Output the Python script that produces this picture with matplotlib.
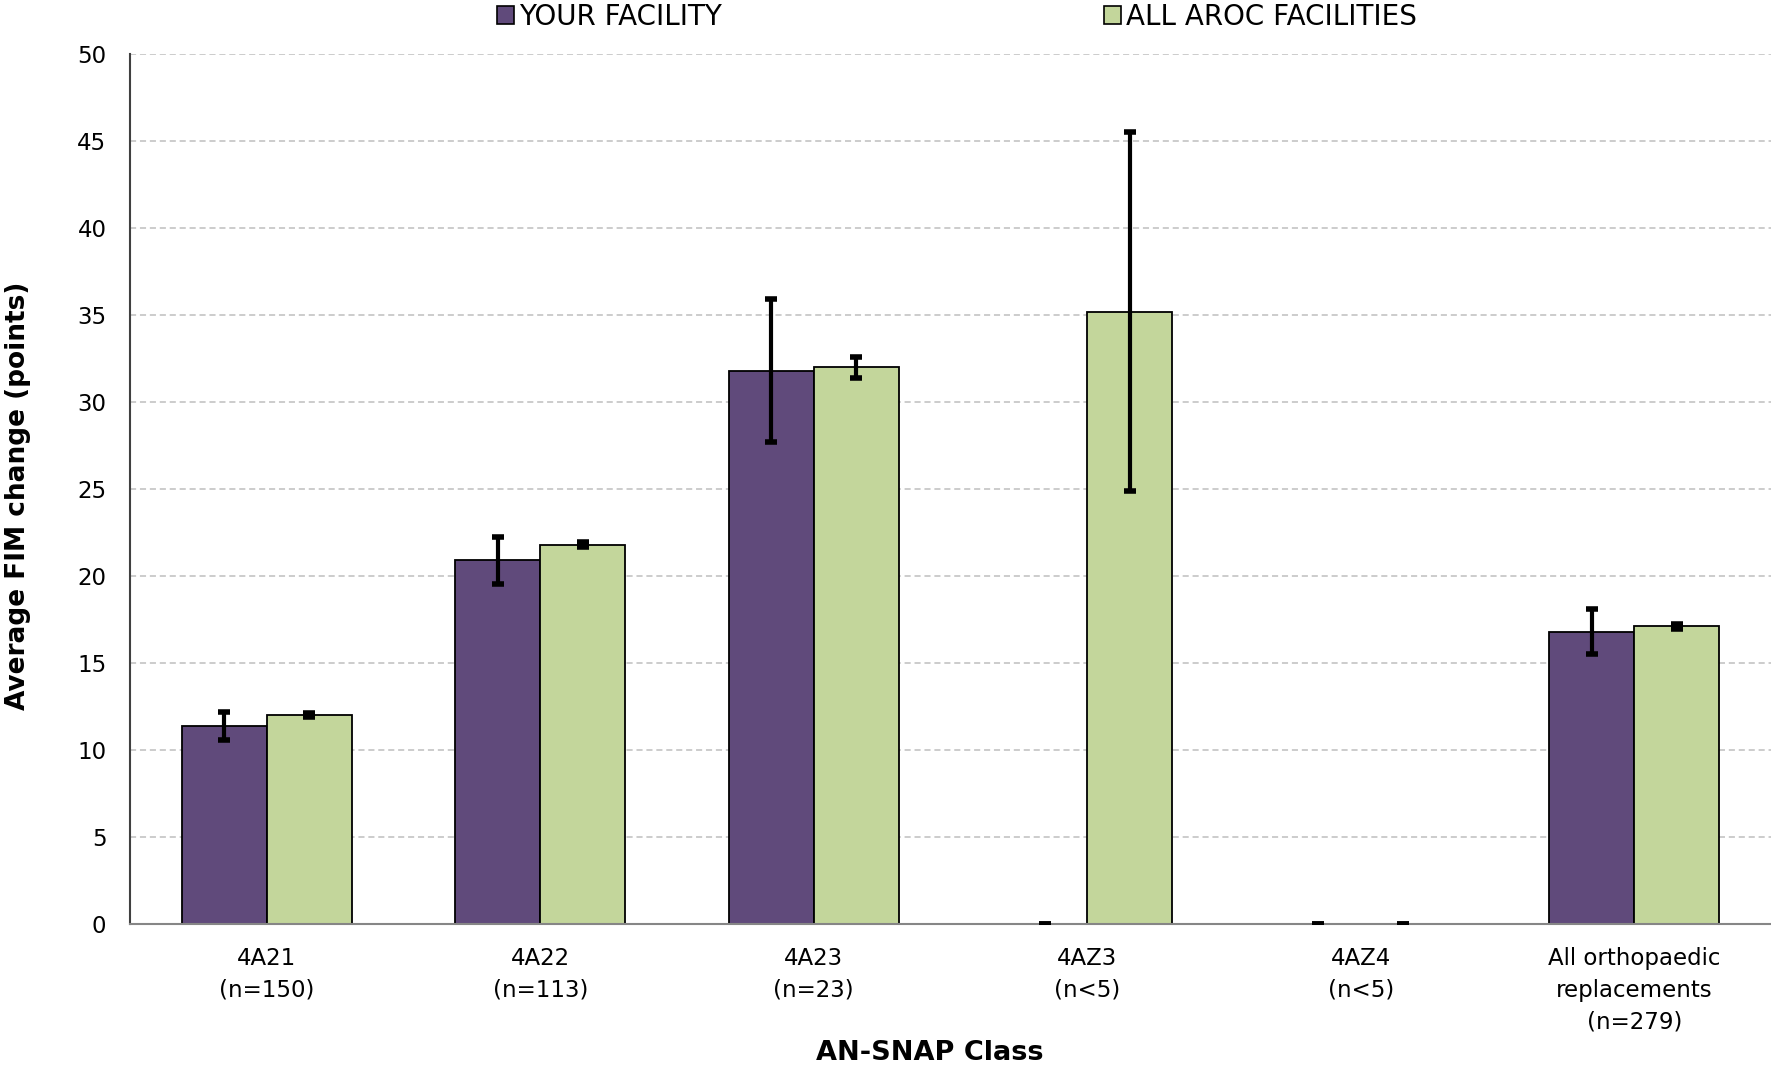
import matplotlib
matplotlib.use("Agg")
import matplotlib.pyplot as plt
from matplotlib.patches import Patch
import numpy as np

categories = ["4A21\n(n=150)", "4A22\n(n=113)", "4A23\n(n=23)", "4AZ3\n(n<5)", "4AZ4\n(n<5)",
              "All orthopaedic\nreplacements\n(n=279)"]
your_facility = [11.4, 20.9, 31.8, 0.0, 0.0, 16.8]
your_err = [0.8, 1.35, 4.1, 0.0, 0.0, 1.3]
all_aroc = [12.0, 21.8, 32.0, 35.2, 0.0, 17.1]
aroc_err = [0.1, 0.15, 0.6, 10.3, 0.0, 0.15]
series_names = ["YOUR FACILITY", "ALL AROC FACILITIES"]
yticks = [0, 5, 10, 15, 20, 25, 30, 35, 40, 45, 50]

purple = "#604A7B"
green = "#C3D69B"

W, H = 1771, 1067
fig = plt.figure(figsize=(W / 100, H / 100), dpi=100)
ax = fig.add_axes([130 / W, 1 - 924 / H, (W - 130) / W, (924 - 54) / H])

x = np.arange(len(categories))
bw = 0.31
for vals, errs, col, off in [(your_facility, your_err, purple, -bw / 2),
                             (all_aroc, aroc_err, green, bw / 2)]:
    lws = [1.3 if v > 0 else 0 for v in vals]
    ax.bar(x + off, vals, bw, color=col, edgecolor="black", linewidth=lws, zorder=2)
    ax.errorbar(x + off, vals, yerr=errs, fmt="none", ecolor="black", elinewidth=3,
                capsize=4.5, capthick=4, zorder=3)

ax.set_xlim(-0.5, len(categories) - 0.5)
ax.set_ylim(0, 50)
ax.set_yticks(yticks)
ax.set_xticks(x)
ax.set_xticklabels(categories, linespacing=1.5)
ax.tick_params(axis="both", length=0, labelsize=16.5, colors="black")
ax.tick_params(axis="y", pad=17)
ax.tick_params(axis="x", pad=16.5)
ax.grid(axis="y", color="#BFBFBF", linestyle=(0, (4, 2.5)), linewidth=1.1, zorder=0)
for s in ["top", "right"]:
    ax.spines[s].set_visible(False)
ax.spines["left"].set_color("#404040")
ax.spines["left"].set_linewidth(1.5)
ax.spines["bottom"].set_color("#868686")
ax.spines["bottom"].set_linewidth(1.5)

cond = ["Liberation Sans Narrow", "DejaVu Sans"]
fig.text(18 / W, 1 - 496 / H, "Average FIM change (points)", rotation=90, ha="center",
         va="center", fontsize=19, fontweight="bold", family=cond)
fig.text(930 / W, 1 - 1053 / H, "AN-SNAP Class", ha="center", va="center",
         fontsize=19.5, fontweight="bold", family=cond)

handles = [Patch(facecolor=purple, edgecolor="black", linewidth=1.2),
           Patch(facecolor=green, edgecolor="black", linewidth=1.2)]
fig.legend(handles, series_names, loc="center", bbox_to_anchor=(957 / W, 1 - 17 / H),
           ncol=2, frameon=False, prop={"family": cond, "size": 20},
           handlelength=0.6, handleheight=0.6, handletextpad=0.2, columnspacing=13.75)

fig.savefig("out.png", dpi=100)
